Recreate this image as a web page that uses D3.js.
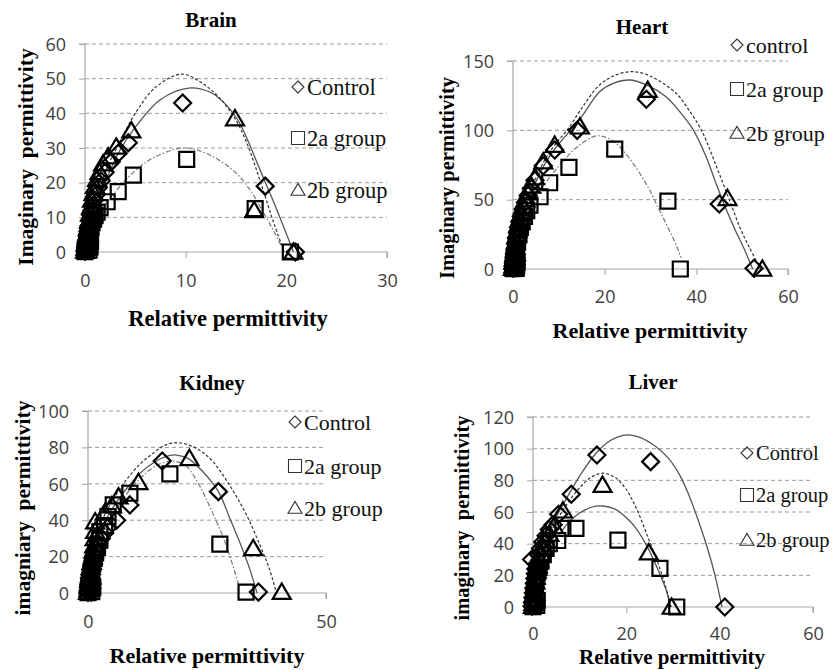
<!DOCTYPE html>
<html>
<head>
<meta charset="utf-8">
<script src="https://cdn.jsdelivr.net/npm/d3@7"></script>
<style>
  body { margin: 0; background: #fff; }
  svg { display: block; }
  text { white-space: pre; }
</style>
</head>
<body>
<div id="chart"></div>
<script>
// ---- data (x = relative, y = imaginary permittivity) ----
const brainControl = [[0,0.2],[0.3,0.5],[0.05,0.8],[0.4,1.5],[0.1,1.5],[0.15,2.5],[0.45,3],[0.2,3.5],[0.25,4.5],[0.5,5],[0.3,6],[0.4,7.5],[0.5,9],[0.6,10.5],[0.7,12],[0.8,13.5],[0.95,15],[1.1,16.5],[1.3,18.5],[1.6,20.5],[2,23],[2.6,26],[3.3,28.5],[4.3,31.5],[9.7,43],[17.9,19],[20.9,0]];
const brain2a = [[0,0.1],[0.4,0.5],[0.05,0.5],[0.1,1],[0.5,1.5],[0.15,1.8],[0.2,2.6],[0.55,3],[0.25,3.5],[0.3,4.5],[0.4,5.5],[0.5,6.5],[0.6,7.5],[0.7,8.5],[0.85,9.5],[1,10.5],[1.2,11.5],[1.5,12.8],[2.2,14.5],[3.3,17.4],[4.8,22.2],[10.1,26.7],[16.9,12.5],[20.4,0]];
const brain2b = [[0,0.3],[0.05,1.2],[0.1,2.2],[0.15,3.5],[0.2,5],[0.3,7],[0.4,9],[0.5,11],[0.6,13],[0.7,15],[0.85,17],[1,19],[1.2,21],[1.45,23],[1.8,25.5],[2.3,27.5],[3.1,30.3],[4.6,35],[14.9,38.5],[16.8,12],[20.7,0]];
const brainFitControl = [[0.2,2],[1,11],[2,20],[3.5,29.5],[5,36],[7.5,44],[10.3,47.3],[12.5,46],[14,42.5],[15.2,38],[16.2,32],[17.2,25],[18,19.5],[18.8,14],[19.7,7.5],[20.7,0]];
const brainFit2a = [[0.2,2],[1,8],[2,13.5],[3.5,19],[5,23.5],[7,27.5],[9.8,30],[12,28.5],[14.7,23.6],[16.4,17.9],[17.5,12.5],[18.7,6.3],[19.8,0]];
const brainFit2b = [[0.2,3],[1,13],[2,23],[3.5,32],[5,40],[7,47.5],[9.6,51.3],[11.7,48.6],[13.5,44],[15,38],[16,32],[17,24],[17.9,16],[18.8,8],[19.8,0]];

const heartControl = [[0,0.5],[0.6,1],[0.1,2],[0.7,3],[0.15,4],[0.2,6],[0.8,6],[0.3,9],[0.4,12],[0.5,15],[0.6,18],[0.8,22],[1,26],[1.2,30],[1.5,34],[1.8,38],[2.2,43],[2.7,48],[3.3,53],[4,58],[4.8,64],[6.6,74.5],[9.1,85.8],[14,100],[29.1,122.4],[45,46.9],[52.6,0.5]];
const heart2a = [[0,0.3],[0.7,0.5],[0.1,1.5],[0.8,2.5],[0.15,3],[0.2,5],[0.9,5],[0.3,7],[0.4,9],[0.5,11],[0.6,13],[0.7,15],[0.8,17],[1,20],[1.3,25],[1.6,30],[2,34],[2.5,38],[3,42],[3.7,46],[5.9,52.1],[8,62.2],[12.2,73.3],[22.2,86.5],[33.8,49],[36.5,0]];
const heart2b = [[0,0.6],[0.1,2.5],[0.15,5],[0.2,7.5],[0.3,10],[0.4,13],[0.5,16],[0.6,19],[0.8,24],[1,28],[1.2,32],[1.5,36],[1.8,40],[2.2,45],[2.7,50],[3.3,55],[4,60],[4.8,66],[6.6,77.4],[9.1,89.4],[14.6,102.6],[29.4,129],[46.8,51],[54.4,0]];
const heartFitControl = [[0.3,10],[1.5,30],[3,47],[5,63],[7,76],[9,86],[12,98],[15,110],[18.9,127.8],[22,134],[25.4,136.3],[29,133],[33.4,124.2],[36.5,113],[39.2,101],[42,82],[44.5,60],[46.5,43],[48.5,28],[50.5,14],[52.3,0]];
const heartFit2a = [[0.3,8],[1.5,25],[3,38],[5,52],[8,66],[11,78],[14,88],[18.2,96],[21.5,93],[25.1,81],[29.4,59.4],[32,42],[33.8,30],[35.5,18],[36.7,8]];
const heartFit2b = [[0.3,12],[1.5,33],[3,50],[5,66],[7,79],[9,89],[12,101],[15,116],[18.9,132.7],[22.5,140],[26.2,142.3],[30,139],[35.6,126.7],[38.5,114],[40.7,102.6],[42.1,93],[44.5,73],[47.2,50],[49.5,30],[51.5,16],[54,0]];

const kidneyControl = [[0,0.3],[0.7,0.5],[0.1,1.5],[0.8,2.5],[0.15,3],[0.2,4.5],[0.9,5],[0.3,6],[0.4,8],[0.5,10],[0.7,12.5],[0.9,15],[1.1,18],[1.4,21],[1.8,24.5],[2.2,27],[2.8,30],[3.5,33],[4.2,36],[6,40],[8.8,48.4],[15.6,72.5],[27.4,55.7],[35.8,0.5]];
const kidney2a = [[0,0.2],[0.8,0.8],[0.1,1],[0.15,2.5],[1,3],[0.2,4],[0.3,5.5],[0.4,7],[0.5,9],[0.6,11],[0.8,13],[1,16],[1.3,19],[1.6,22],[2,25],[2.5,29],[2.5,33.7],[3.5,37],[4.2,42],[5.3,48.4],[8.8,54.8],[17.2,65.4],[27.7,26.9],[33.2,0.5]];
const kidney2b = [[0,0.4],[0.1,2],[0.15,3.5],[0.2,5],[0.3,7],[0.4,9.5],[0.5,12],[0.6,14],[0.8,17],[1,20],[1.2,23],[1.3,26],[1.4,30],[1.5,34],[1.5,39.2],[3.5,44],[5,48],[6.4,52.9],[10.6,60.8],[21.3,74],[34.7,24.5],[40.7,0.5]];
const kidneyFitControl = [[0.3,8],[1.5,25],[3,36],[5,46],[8,57],[11,66],[14,72],[17,75.5],[18.6,75.8],[21,74],[24,67],[27.4,55.7],[29.8,41],[32,27],[34,13],[35.5,0]];
const kidneyFit2a = [[0.3,7],[1.5,22],[3,33],[5,43],[8,54],[11,63],[14,69.5],[17.5,72.5],[20.5,70],[23,61],[24.6,53],[26.7,41],[28.5,30],[30.2,17],[31.8,3]];
const kidneyFit2b = [[0.3,10],[1.5,28],[3,40],[5,50],[8,62],[11,71],[13.7,76.8],[16,81],[18.6,82.6],[21.5,81],[24,77.5],[26.3,72],[29.8,59],[33.3,42.9],[36,27],[38,14],[39.6,0]];

const liverControl = [[-0.2,0.5],[0.6,1],[-0.1,3],[0.7,4],[0,6],[0.1,9],[0.2,12],[0.3,15],[0.4,18],[0.5,21],[0.6,24],[0.8,27],[-0.3,30],[1.2,33],[1.6,37],[2.1,41],[2.8,45],[3.5,49],[4.3,52],[5.5,58.6],[8.2,71.2],[13.7,96],[25.2,91.8],[41.1,0]];
const liver2a = [[0,0.3],[0.8,1],[0.1,2],[0.15,4],[0.9,4],[0.2,6],[0.3,8],[0.4,10],[0.5,13],[0.6,16],[0.8,19],[1,22],[1.3,25],[1.7,29],[2.2,33],[2.8,37],[3.5,40],[5.3,42],[6.4,49.7],[9.2,49.7],[18.2,42.3],[27.2,24.4],[30.8,0]];
const liver2b = [[0,0.5],[0.1,2.5],[0.15,5],[0.2,7],[0.3,10],[0.4,13],[0.5,16],[0.6,19],[0.8,23],[1,26],[1.3,30],[1.7,34],[2.2,38],[2.8,42],[3.5,46],[4.5,51],[6.4,60.8],[14.9,77],[24.8,34.3],[29.7,0]];
const liverFitControl = [[0.3,15],[1.5,33],[3,45],[5,57],[7.8,71.8],[10.5,85],[13.5,97.1],[16.5,105],[20.2,108.7],[23,107],[26,102],[29,94],[31.5,83],[33.5,70],[35.5,54],[37.5,36],[39,20],[40.5,0]];
const liverFit2a = [[0.3,10],[1.5,24],[3,34],[5,43],[7.5,53],[9.9,59.2],[12.5,63],[14.9,63.8],[17.5,62],[19.8,57],[22,50],[24.5,38],[27,22],[28.5,11],[29.5,0]];
const liverFit2b = [[0.3,14],[1.5,30],[3,42],[5,54],[7.5,66],[9.9,75],[12.5,82],[14.9,84.5],[17.5,82],[19.8,75],[22.3,61.3],[24.5,45],[26.5,30],[28,17],[29.6,0]];

const brainXTicks = [0, 10, 20, 30], brainYTicks = [0, 10, 20, 30, 40, 50, 60];
const heartXTicks = [0, 20, 40, 60], heartYTicks = [0, 50, 100, 150];
const kidneyXTicks = [0, 50], kidneyYTicks = [0, 20, 40, 60, 80, 100];
const liverXTicks = [0, 20, 40, 60], liverYTicks = [0, 20, 40, 60, 80, 100, 120];

// ---- layout ----
const W = 835, H = 670;
const svg = d3.select('#chart').append('svg').attr('width', W).attr('height', H);

const serif = '"Liberation Serif", "Times New Roman", serif';
const sans = '"Open Sans", "Liberation Sans", sans-serif';

// fit line styles: control solid, 2a dash-dot, 2b dashed
const fitStyle = {
  solid:   { stroke: '#555', dash: null, width: 1.3 },
  dashdot: { stroke: '#777', dash: '5,2,1.5,2', width: 1.2 },
  dashed:  { stroke: '#333', dash: '3,2', width: 1.2 }
};

const panels = [
  { title: 'Brain', tx: 211, ty: 20, yTitle: 'Imaginary  permittivity', ytx: 25, yty: 157, yFont: 21.5,
    xtx: 228, xty: 318, xFont: 22.5, tickY: 282,
    left: 85, right: 387, top: 44, bottom: 252, xMax: 30, yMax: 60,
    xTicks: brainXTicks, yTicks: brainYTicks, legFont: 22.5,
    labels: ['Control', '2a group', '2b group'], legX: 298, legY: [87, 138, 190],
    data: [brainControl, brain2a, brain2b],
    fits: [[brainFitControl, 'solid'], [brainFit2a, 'dashdot'], [brainFit2b, 'dashed']] },
  { title: 'Heart', tx: 642, ty: 27, yTitle: 'Imaginary permittivity', ytx: 447, yty: 178, yFont: 20.5,
    xtx: 650, xty: 330, xFont: 22, tickY: 298,
    left: 513, right: 788, top: 61, bottom: 269, xMax: 60, yMax: 150,
    xTicks: heartXTicks, yTicks: heartYTicks, legFont: 22,
    labels: ['control', '2a group', '2b group'], legX: 737, legY: [45, 89, 133],
    data: [heartControl, heart2a, heart2b],
    fits: [[heartFitControl, 'solid'], [heartFit2a, 'dashdot'], [heartFit2b, 'dashed']] },
  { title: 'Kidney', tx: 212, ty: 383, yTitle: 'imagniary  permittivity', ytx: 22, yty: 508, yFont: 21.5,
    xtx: 207, xty: 655, xFont: 22, tickY: 623,
    left: 88, right: 326, top: 411, bottom: 593, xMax: 50, yMax: 100,
    xTicks: kidneyXTicks, yTicks: kidneyYTicks, legFont: 22,
    labels: ['Control', '2a group', '2b group'], legX: 295, legY: [422, 466, 508],
    data: [kidneyControl, kidney2a, kidney2b],
    fits: [[kidneyFitControl, 'solid'], [kidneyFit2a, 'dashdot'], [kidneyFit2b, 'dashed']] },
  { title: 'Liver', tx: 653, ty: 382, yTitle: 'imaginary  permittivity', ytx: 462, yty: 518, yFont: 20.5,
    xtx: 672, xty: 657, xFont: 21, tickY: 635,
    left: 533, right: 813, top: 417, bottom: 607, xMax: 60, yMax: 120,
    xTicks: liverXTicks, yTicks: liverYTicks, legFont: 20.5,
    labels: ['Control', '2a group', '2b group'], legX: 747, legY: [453, 495, 540],
    data: [liverControl, liver2a, liver2b],
    fits: [[liverFitControl, 'solid'], [liverFit2a, 'solid'], [liverFit2b, 'dashed']] }
];

// marker shapes
const diamond = (s) => `M0,${-s}L${s},0L0,${s}L${-s},0Z`;
const square = (s) => `M${-s},${-s}H${s}V${s}H${-s}Z`;
const triangle = (s) => `M0,${-s * 0.95}L${s},${s * 0.75}L${-s},${s * 0.75}Z`;
const shapes = [d => diamond(d), d => square(d), d => triangle(d)];
const markSize = [8.5, 7.5, 9];
const legSize = [6, 6.5, 7];

panels.forEach(p => {
  const g = svg.append('g');
  const x = d3.scaleLinear().domain([0, p.xMax]).range([p.left, p.right]);
  const y = d3.scaleLinear().domain([0, p.yMax]).range([p.bottom, p.top]);

  // gridlines
  g.selectAll('.grid').data(p.yTicks.filter(t => t > 0)).enter().append('line')
    .attr('x1', p.left).attr('x2', p.right)
    .attr('y1', d => y(d)).attr('y2', d => y(d))
    .attr('stroke', '#999').attr('stroke-width', 1).attr('stroke-dasharray', '4,3');

  // y axis
  const yAxis = d3.axisLeft(y).tickValues(p.yTicks).tickSize(6).tickPadding(13);
  const ya = g.append('g').attr('transform', `translate(${p.left},0)`).call(yAxis);
  // x axis
  const xAxis = d3.axisBottom(x).tickValues(p.xTicks).tickSize(6).tickPadding(p.tickY - p.bottom - 14);
  const xa = g.append('g').attr('transform', `translate(0,${p.bottom})`).call(xAxis);
  [ya, xa].forEach(a => {
    a.attr('font-family', sans).attr('font-size', 18);
    a.select('.domain').attr('stroke', '#a6a6a6').attr('stroke-width', 1.2);
    a.selectAll('.tick line').attr('stroke', '#a6a6a6');
    a.selectAll('.tick text').attr('fill', '#404040');
  });
  ya.selectAll('.tick text').attr('dy', '0.35em');
  xa.select('.domain').attr('d', `M${p.left},6V0H${p.right}V6`);
  ya.select('.domain').attr('d', `M-6,${p.top}H0V${p.bottom}`);

  // fitted curves
  const line = d3.line().x(d => x(d[0])).y(d => y(d[1])).curve(d3.curveCatmullRom.alpha(0.5));
  p.fits.forEach(([pts, style]) => {
    const st = fitStyle[style];
    g.append('path').attr('d', line(pts)).attr('fill', 'none')
      .attr('stroke', st.stroke).attr('stroke-width', st.width)
      .attr('stroke-dasharray', st.dash);
  });

  // markers
  p.data.forEach((pts, si) => {
    g.append('g').selectAll('path').data(pts).enter().append('path')
      .attr('transform', d => `translate(${x(d[0])},${y(d[1])})`)
      .attr('d', shapes[si](markSize[si]))
      .attr('fill', 'none').attr('stroke', '#000').attr('stroke-width', 2.2)
      .attr('stroke-linejoin', 'miter');
  });

  // legend
  p.labels.forEach((lab, i) => {
    g.append('path')
      .attr('transform', `translate(${p.legX},${p.legY[i]})`)
      .attr('d', shapes[i](legSize[i]))
      .attr('fill', 'none').attr('stroke', '#333').attr('stroke-width', 1.1);
    g.append('text')
      .attr('x', p.legX + 9).attr('y', p.legY[i]).attr('dy', '0.35em')
      .attr('font-family', serif).attr('font-size', p.legFont).attr('fill', '#111')
      .text(lab);
  });

  // titles
  g.append('text').attr('x', p.tx).attr('y', p.ty).attr('dy', '0.35em')
    .attr('text-anchor', 'middle')
    .attr('font-family', serif).attr('font-weight', 'bold').attr('font-size', 21)
    .text(p.title);
  g.append('text').attr('x', p.xtx).attr('y', p.xty).attr('dy', '0.35em')
    .attr('text-anchor', 'middle')
    .attr('font-family', serif).attr('font-weight', 'bold').attr('font-size', p.xFont)
    .text('Relative permittivity');
  g.append('text')
    .attr('transform', `translate(${p.ytx},${p.yty}) rotate(-90)`)
    .attr('dy', '0.35em').attr('text-anchor', 'middle')
    .attr('font-family', serif).attr('font-weight', 'bold').attr('font-size', p.yFont)
    .text(p.yTitle);
});
</script>
</body>
</html>
